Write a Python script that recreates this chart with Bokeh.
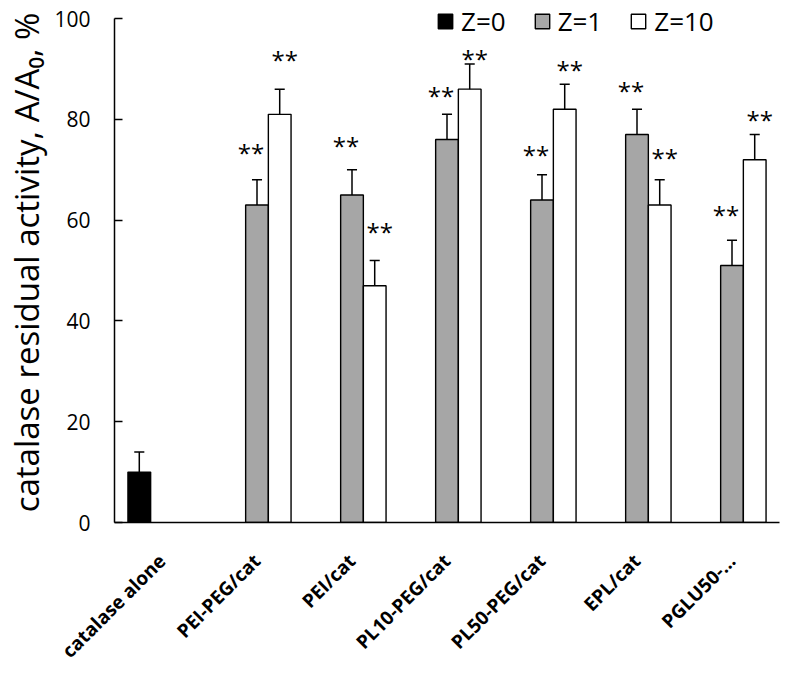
from math import pi
from bokeh.plotting import figure
from bokeh.models import ColumnDataSource, FactorRange, Range1d, Legend, LegendItem, FixedTicker
from bokeh.transform import dodge
from bokeh.core.properties import value
from bokeh.embed import file_html
from bokeh.resources import INLINE

# ---- data ----
categories = ["catalase alone", "PEI-PEG/cat", "PEI/cat", "PL10-PEG/cat",
              "PL50-PEG/cat", "EPL/cat", "PGLU50-..."]
series_names = ["Z=0", "Z=1", "Z=10"]

z0_cats = ["catalase alone"]
z0_vals = [10]
z0_err = [4]

z_cats = ["PEI-PEG/cat", "PEI/cat", "PL10-PEG/cat", "PL50-PEG/cat", "EPL/cat", "PGLU50-..."]
z1_vals = [63, 65, 76, 64, 77, 51]
z1_err = [5, 5, 5, 5, 5, 5]
z10_vals = [81, 47, 86, 82, 63, 72]
z10_err = [5, 5, 5, 5, 5, 5]

# significance marks and the heights at which they are written (data units)
z1_marks = ["**", "**", "**", "**", "**", "**"]
z1_mark_y = [73.9, 75.2, 85.2, 73.4, 86.2, 61.5]
z10_marks = ["**", "**", "**", "**", "**", "**"]
z10_mark_y = [92.3, 58.2, 92.5, 90.3, 72.8, 80.3]

y_ticks = [0, 20, 40, 60, 80, 100]
y_axis_max = 100

# ---- figure ----
FONT = "Open Sans"
p = figure(x_range=FactorRange(*categories), y_range=Range1d(0, 103.2),
           width=783, height=675, output_backend="svg", toolbar_location=None,
           min_border_left=114, min_border_right=4, min_border_top=2,
           min_border_bottom=100)
p.x_range.range_padding = 0
p.xgrid.visible = False
p.ygrid.visible = False
p.outline_line_color = None
p.background_fill_color = "white"

BW = 0.239
offsets = [-BW, 0.0, BW]
fills = ["#000000", "#A6A6A6", "#FFFFFF"]

def make_src(cats, vals, errs, marks=None, mark_y=None):
    d = dict(cat=cats, val=vals, top=[v + e for v, e in zip(vals, errs)])
    if marks is not None:
        d["mark"] = marks
        d["mark_y"] = mark_y
    return ColumnDataSource(d)

srcs = [make_src(z0_cats, z0_vals, z0_err),
        make_src(z_cats, z1_vals, z1_err, z1_marks, z1_mark_y),
        make_src(z_cats, z10_vals, z10_err, z10_marks, z10_mark_y)]

bar_renderers = []
CAP = 0.053
mark_dx = [0, -6, 5]
for i, src in enumerate(srcs):
    off = offsets[i]
    r = p.vbar(x=dodge("cat", off, range=p.x_range), top="val", width=BW, source=src,
               fill_color=fills[i], line_color="black", line_width=1.4)
    bar_renderers.append(r)
    p.segment(x0=dodge("cat", off, range=p.x_range), y0="val",
              x1=dodge("cat", off, range=p.x_range), y1="top", source=src,
              line_color="black", line_width=1.5)
    p.segment(x0=dodge("cat", off - CAP, range=p.x_range), y0="top",
              x1=dodge("cat", off + CAP, range=p.x_range), y1="top", source=src,
              line_color="black", line_width=1.5)
    if "mark" in src.data:
        p.text(x=dodge("cat", off, range=p.x_range), y="mark_y", text="mark", source=src,
               text_font=value(FONT), text_font_size="24px", text_align="center",
               text_baseline="middle", x_offset=mark_dx[i], y_offset=2, text_color="black")

# ---- axes ----
p.yaxis.ticker = FixedTicker(ticks=y_ticks)
p.yaxis.bounds = (0, y_axis_max)
p.yaxis.minor_tick_line_color = None
p.yaxis.major_tick_in = 8
p.yaxis.major_tick_out = 0
p.yaxis.major_tick_line_width = 1.5
p.yaxis.axis_line_width = 1.5
p.yaxis.major_label_standoff = 24
p.yaxis.major_label_text_font = FONT
p.yaxis.major_label_text_font_size = "21px"
p.yaxis.major_label_text_color = "black"
p.yaxis.axis_label = "catalase residual activity, A/A\u2080, %"
p.yaxis.axis_label_text_font = FONT
p.yaxis.axis_label_text_font_size = "33px"
p.yaxis.axis_label_text_font_style = "normal"
p.yaxis.axis_label_text_color = "black"
p.yaxis.axis_label_standoff = 2

p.xaxis.major_tick_line_color = None
p.xaxis.minor_tick_line_color = None
p.xaxis.axis_line_width = 1.5
p.xaxis.major_label_orientation = pi / 4
p.xaxis.major_label_standoff = 29
p.xaxis.major_label_text_font = FONT
p.xaxis.major_label_text_font_size = "19px"
p.xaxis.major_label_text_font_style = "bold"
p.xaxis.major_label_text_color = "black"

# ---- legend ----
legend = Legend(items=[LegendItem(label=series_names[i], renderers=[bar_renderers[i]])
                       for i in range(3)],
                orientation="horizontal", location=(322, 483),
                border_line_color=None, background_fill_alpha=0,
                label_text_font=FONT, label_text_font_size="26px",
                label_text_color="black",
                glyph_width=18, glyph_height=18, label_standoff=7,
                spacing=27, padding=0, margin=0)
p.add_layout(legend)

open("out.html", "w").write(file_html(p, INLINE))
